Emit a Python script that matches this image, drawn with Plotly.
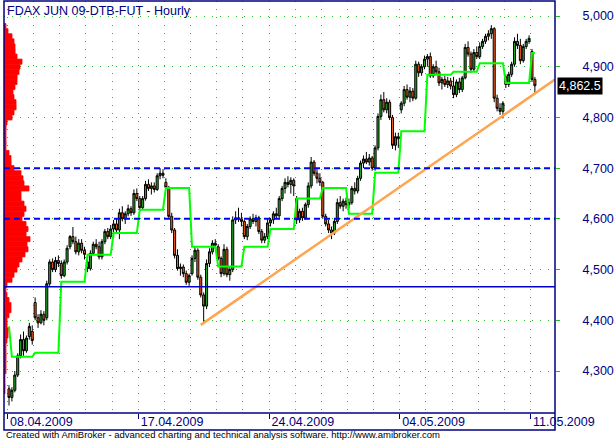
import plotly.graph_objects as go

# ---------------- data ----------------
days = ["08.04.2009", "09.04.2009", "14.04.2009", "15.04.2009", "16.04.2009", "17.04.2009",
        "20.04.2009", "21.04.2009", "22.04.2009", "23.04.2009", "24.04.2009",
        "27.04.2009", "28.04.2009", "29.04.2009", "30.04.2009",
        "04.05.2009", "05.05.2009", "06.05.2009", "07.05.2009", "08.05.2009", "11.05.2009"]
bars_per_day = [9] * 20 + [2]
labelled_days = ["08.04.2009", "17.04.2009", "24.04.2009", "04.05.2009", "11.05.2009"]

opn = [4265, 4248, 4262, 4292, 4330, 4362, 4340, 4368, 4378,
       4435, 4405, 4395, 4412, 4405, 4472, 4515, 4500, 4518,
       4512, 4488, 4515, 4545, 4565, 4555, 4535, 4552, 4538,
       4515, 4502, 4532, 4550, 4545, 4525, 4555, 4575, 4565,
       4580, 4590, 4578, 4612, 4600, 4610, 4620, 4612, 4650,
       4640, 4622, 4640, 4668, 4660, 4665, 4658, 4685, 4690,
       4672, 4662, 4605, 4578, 4528, 4502, 4505, 4492, 4475,
       4492, 4522, 4538, 4485, 4450, 4428, 4512, 4535, 4552,
       4545, 4522, 4492, 4540, 4490, 4500, 4598, 4602, 4600,
       4595, 4565, 4585, 4600, 4595, 4602, 4575, 4558, 4565,
       4592, 4598, 4610, 4606, 4640, 4660, 4672, 4668, 4676,
       4640, 4598, 4615, 4602, 4628, 4665, 4712, 4690, 4680,
       4672, 4605, 4590, 4578, 4572, 4595, 4632, 4625, 4635,
       4628, 4632, 4660, 4655, 4680, 4710, 4718, 4712, 4720,
       4700, 4740, 4802, 4835, 4815, 4830, 4800, 4745, 4762,
       4815, 4828, 4855, 4840, 4852, 4838, 4905, 4888, 4900,
       4915, 4920, 4882, 4900, 4890, 4868, 4875, 4865, 4872,
       4862, 4845, 4870, 4855, 4878, 4938, 4925, 4895, 4928,
       4920, 4940, 4950, 4960, 4965, 4975, 4838, 4818, 4812,
       4880, 4865, 4885, 4905, 4950, 4942, 4912, 4940, 4950,
       4930, 4875]
high = [4272, 4268, 4300, 4335, 4372, 4378, 4370, 4395, 4390,
        4445, 4412, 4420, 4418, 4478, 4520, 4522, 4525, 4528,
        4518, 4520, 4548, 4568, 4584, 4565, 4560, 4560, 4545,
        4520, 4538, 4555, 4560, 4555, 4560, 4580, 4582, 4588,
        4598, 4600, 4620, 4625, 4615, 4628, 4625, 4658, 4660,
        4645, 4645, 4675, 4678, 4672, 4672, 4690, 4700, 4698,
        4680, 4665, 4612, 4582, 4540, 4512, 4510, 4498, 4492,
        4528, 4545, 4542, 4490, 4455, 4520, 4542, 4558, 4560,
        4550, 4526, 4550, 4545, 4505, 4605, 4615, 4622, 4612,
        4598, 4590, 4605, 4610, 4608, 4606, 4580, 4572, 4600,
        4602, 4615, 4622, 4645, 4665, 4680, 4684, 4682, 4680,
        4645, 4620, 4622, 4632, 4672, 4722, 4716, 4698, 4690,
        4675, 4610, 4598, 4585, 4600, 4640, 4645, 4640, 4642,
        4640, 4665, 4672, 4685, 4715, 4725, 4732, 4728, 4724,
        4745, 4808, 4845, 4850, 4838, 4835, 4805, 4770, 4770,
        4832, 4862, 4865, 4860, 4858, 4912, 4910, 4905, 4922,
        4925, 4928, 4905, 4912, 4898, 4880, 4882, 4880, 4878,
        4880, 4875, 4878, 4882, 4945, 4950, 4930, 4935, 4940,
        4948, 4955, 4965, 4972, 4982, 4978, 4845, 4828, 4832,
        4885, 4890, 4910, 4958, 4965, 4955, 4945, 4955, 4962,
        4935, 4880]
low = [4232, 4240, 4258, 4288, 4325, 4330, 4336, 4362, 4352,
       4400, 4385, 4392, 4390, 4400, 4468, 4495, 4495, 4505,
       4482, 4485, 4510, 4540, 4550, 4530, 4528, 4532, 4520,
       4495, 4498, 4528, 4540, 4520, 4520, 4550, 4560, 4560,
       4562, 4570, 4560, 4595, 4590, 4605, 4606, 4608, 4635,
       4615, 4618, 4636, 4655, 4648, 4652, 4655, 4678, 4680,
       4660, 4600, 4572, 4522, 4498, 4488, 4485, 4470, 4468,
       4488, 4515, 4480, 4445, 4395, 4422, 4505, 4530, 4540,
       4518, 4485, 4488, 4485, 4478, 4495, 4590, 4594, 4585,
       4560, 4558, 4580, 4590, 4585, 4570, 4552, 4552, 4560,
       4585, 4590, 4600, 4602, 4635, 4650, 4662, 4650, 4645,
       4590, 4592, 4596, 4598, 4622, 4660, 4685, 4670, 4665,
       4600, 4585, 4572, 4560, 4568, 4590, 4620, 4615, 4620,
       4620, 4628, 4648, 4650, 4675, 4700, 4708, 4705, 4695,
       4695, 4735, 4795, 4810, 4808, 4795, 4738, 4735, 4740,
       4808, 4822, 4835, 4830, 4832, 4835, 4880, 4882, 4895,
       4900, 4878, 4878, 4885, 4862, 4855, 4860, 4858, 4855,
       4838, 4840, 4848, 4850, 4875, 4920, 4888, 4890, 4915,
       4915, 4935, 4945, 4952, 4955, 4830, 4812, 4805, 4798,
       4858, 4860, 4880, 4900, 4935, 4905, 4908, 4935, 4945,
       4870, 4848]
close = [4248, 4262, 4292, 4330, 4362, 4340, 4365, 4388, 4360,
         4405, 4395, 4412, 4400, 4472, 4515, 4500, 4518, 4512,
         4488, 4515, 4542, 4565, 4555, 4535, 4552, 4538, 4530,
         4502, 4532, 4550, 4545, 4525, 4555, 4575, 4565, 4580,
         4590, 4578, 4612, 4600, 4610, 4620, 4612, 4650, 4640,
         4622, 4640, 4668, 4660, 4665, 4658, 4685, 4690, 4686,
         4662, 4605, 4578, 4528, 4502, 4505, 4492, 4475, 4488,
         4522, 4538, 4485, 4450, 4428, 4512, 4535, 4552, 4548,
         4522, 4492, 4540, 4490, 4500, 4598, 4602, 4600, 4595,
         4565, 4585, 4600, 4595, 4602, 4575, 4558, 4565, 4592,
         4598, 4610, 4606, 4640, 4660, 4672, 4668, 4676, 4665,
         4598, 4615, 4602, 4628, 4665, 4712, 4690, 4680, 4672,
         4605, 4590, 4578, 4572, 4595, 4632, 4625, 4635, 4628,
         4632, 4660, 4655, 4680, 4710, 4718, 4712, 4720, 4700,
         4740, 4802, 4835, 4815, 4830, 4800, 4745, 4762, 4758,
         4828, 4855, 4840, 4852, 4838, 4905, 4888, 4900, 4915,
         4920, 4882, 4900, 4890, 4868, 4875, 4865, 4872, 4862,
         4845, 4870, 4855, 4878, 4938, 4925, 4895, 4928, 4920,
         4940, 4950, 4960, 4965, 4975, 4838, 4818, 4812, 4828,
         4865, 4885, 4905, 4950, 4942, 4912, 4940, 4950, 4956,
         4875, 4862.5]

# daily trailing-stop level (green step line); first bar of the series differs
stop_levels = [4328, 4336, 4476, 4529, 4572, 4618, 4661, 4545, 4506, 4545, 4580,
               4640, 4661, 4610, 4691, 4773, 4884, 4890, 4907, 4868, 4927]
stop_first_bar = 4388

# trend line anchor points (bar index, price)
trend_x = [66, 188]
trend_y = [4391, 4875]

dashed_levels = [4700, 4600]
solid_level = 4466
last_close = 4862.5

# volume at price profile (price bin centre, contracts)
vp_price = [4980, 4970, 4960, 4950, 4940, 4930, 4920, 4910, 4900, 4890, 4880, 4870,
            4860, 4850, 4840, 4830, 4820, 4810, 4800, 4790, 4780, 4770, 4760, 4750,
            4740, 4730, 4720, 4710, 4700, 4690, 4680, 4670, 4660, 4650, 4640, 4630,
            4620, 4610, 4600, 4590, 4580, 4570, 4560, 4550, 4540, 4530, 4520, 4510,
            4500, 4490, 4480, 4470, 4460, 4450, 4440, 4430, 4420, 4410, 4400, 4390,
            4380, 4370, 4360, 4350, 4340, 4330, 4320, 4310, 4300, 4290, 4280, 4270, 4260]
vp_volume = [240, 480, 960, 1200, 1320, 1330, 1560, 2160, 1920, 1800, 1570, 1560,
             1320, 1080, 1200, 1440, 1450, 1200, 960, 360, 250, 240, 240, 250,
             240, 600, 840, 850, 1200, 2040, 2280, 2400, 3000, 2040, 2050, 2400,
             2640, 2400, 2160, 2640, 2880, 2650, 3120, 2760, 2880, 2520, 2160, 1800,
             1560, 1200, 960, 360, 240, 360, 600, 840, 840, 600, 360, 370,
             480, 480, 360, 240, 240, 250, 240, 240, 240, 120, 120, 130, 120]

yticks = [4300, 4400, 4500, 4600, 4700, 4800, 4900, 5000]

# ---------------- derived positions ----------------
idx = list(range(len(close)))
day_start = []
s = 0
for n in bars_per_day:
    day_start.append(s)
    s += n
day_bound = [d - 0.5 for d in day_start]
label_pos = [day_bound[days.index(d)] for d in labelled_days]

stop = []
for lvl, n in zip(stop_levels, bars_per_day):
    stop += [lvl] * n
stop[0] = stop_first_bar

NAVY = "#000080"
GRID = "#22BB22"
FONT = "Liberation Sans, Arial, sans-serif"

fig = go.Figure()
fig.add_trace(go.Bar(
    y=vp_price, x=vp_volume, orientation="h", width=10,
    marker=dict(color="#FF0000", line=dict(width=0.8, color="#FF0000")),
    xaxis="x2", yaxis="y", hoverinfo="skip", showlegend=False))
fig.add_trace(go.Candlestick(
    x=idx, open=opn, high=high, low=low, close=close,
    increasing=dict(fillcolor="#22A822", line=dict(color="black", width=1)),
    decreasing=dict(fillcolor="#F05A1E", line=dict(color="black", width=1)),
    whiskerwidth=0, hoverinfo="skip", showlegend=False))
fig.add_trace(go.Scatter(
    x=idx, y=stop, mode="lines", line=dict(color="#00FF00", width=2),
    hoverinfo="skip", showlegend=False))
fig.add_trace(go.Scatter(
    x=trend_x, y=trend_y, mode="lines", line=dict(color="#FFA552", width=2.5),
    hoverinfo="skip", showlegend=False))

shapes = [
    dict(type="line", xref="paper", x0=0, x1=1, yref="y", y0=v, y1=v,
         line=dict(color="#0000FF", width=2, dash="6px,4px"), layer="above")
    for v in dashed_levels
]
shapes.append(dict(type="line", xref="paper", x0=0, x1=1, yref="y", y0=solid_level,
                   y1=solid_level, line=dict(color="#0000CC", width=1.5), layer="above"))
shapes.append(dict(type="rect", xref="paper", yref="paper", x0=0, x1=1, y0=-0.0413, y1=1,
                   line=dict(color=NAVY, width=1.5), layer="above"))
shapes.append(dict(type="line", xref="paper", yref="paper", x0=0, x1=1, y0=0, y1=0,
                   line=dict(color=NAVY, width=1.5), layer="above"))

annotations = [
    dict(text="FDAX JUN 09-DTB-FUT - Hourly", xref="paper", yref="paper", x=0, y=1,
         xanchor="left", yanchor="top", xshift=1, yshift=-1, showarrow=False,
         font=dict(family=FONT, size=12.5, color=NAVY)),
    dict(text=f"{last_close:,.1f}", xref="paper", yref="y", x=1, y=last_close,
         xanchor="left", yanchor="middle", xshift=2, showarrow=False,
         bgcolor="black", borderpad=1, font=dict(family=FONT, size=12.5, color="white")),
    dict(text="Created with AmiBroker - advanced charting and technical analysis software. "
              "http://www.amibroker.com",
         xref="paper", yref="paper", x=0, y=-0.0522, xanchor="left", yanchor="middle",
         showarrow=False, font=dict(family=FONT, size=9.5, color="black")),
]

fig.update_layout(
    width=616, height=442,
    margin=dict(l=4, r=61, t=1, b=29),
    paper_bgcolor="white", plot_bgcolor="white",
    showlegend=False, boxgap=0,
    xaxis=dict(range=[-1.72, 187.92], tickvals=label_pos, ticktext=labelled_days,
               ticks="outside", ticklen=5, tickwidth=1, tickcolor=NAVY,
               ticklabelposition="outside right", ticklabelstandoff=-3, ticklabelshift=2,
               tickfont=dict(family=FONT, size=12.5, color=NAVY),
               showgrid=True, gridcolor=GRID, griddash="1px,7px", gridwidth=1,
               minor=dict(tickvals=day_bound, showgrid=True, gridcolor=GRID,
                          griddash="1px,7px", gridwidth=1, ticks=""),
               zeroline=False, showline=False, rangeslider=dict(visible=False)),
    xaxis2=dict(overlaying="x", range=[0, 66120], visible=False),
    yaxis=dict(side="right", range=[4217.2, 5029.6], tickvals=yticks, tickformat=",d",
               ticks="outside", ticklen=4, tickcolor=GRID,
               tickfont=dict(family=FONT, size=12.5, color=NAVY), ticklabelstandoff=20,
               showgrid=True, gridcolor=GRID, griddash="1px,7px", gridwidth=1,
               zeroline=False, showline=False),
    shapes=shapes, annotations=annotations,
)

fig.write_html("out.html", config={"displayModeBar": False},
               post_script="document.body.style.margin='0';document.body.style.padding='0';")
